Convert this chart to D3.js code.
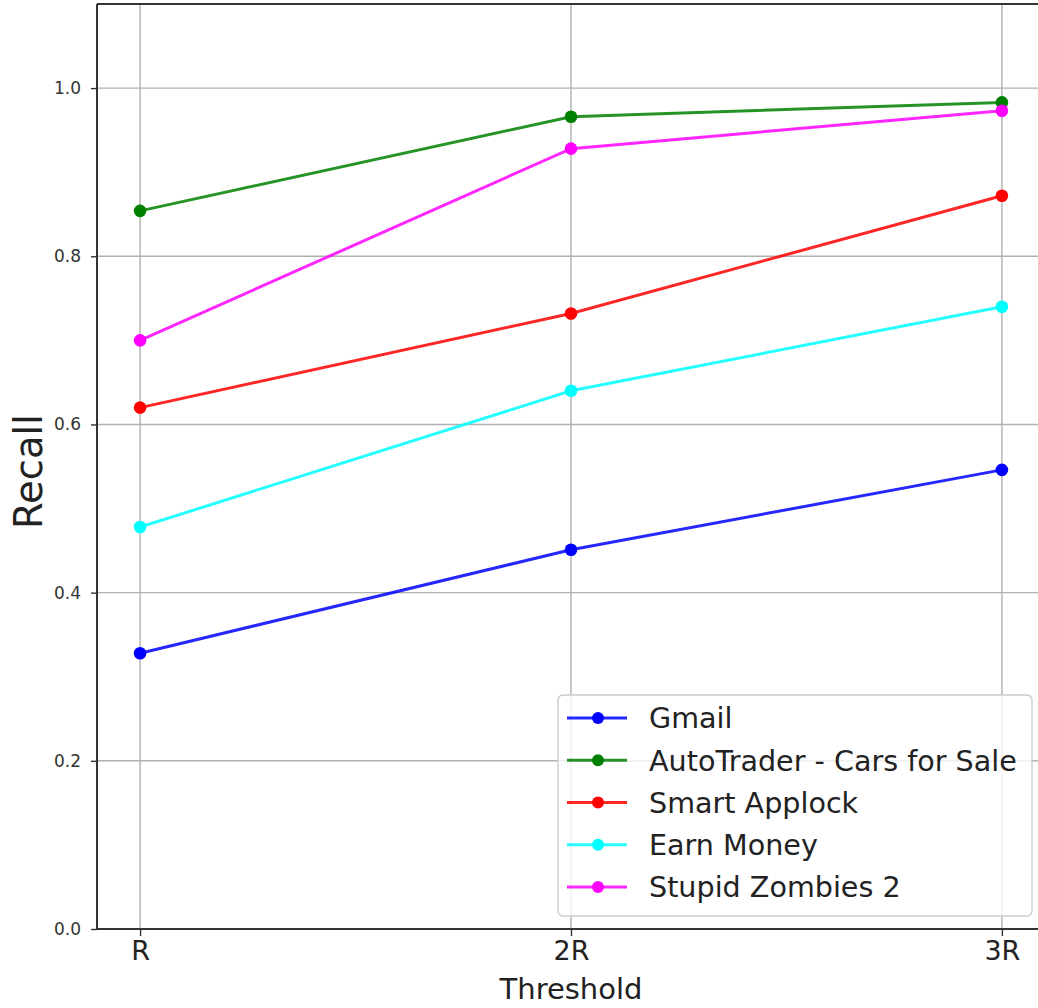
<!DOCTYPE html>
<html>
<head>
<meta charset="utf-8">
<script src="https://cdn.jsdelivr.net/npm/d3@7"></script>
<style>
  html, body { margin: 0; padding: 0; background: #fff; }
  svg { display: block; font-family: "DejaVu Sans", sans-serif; }
</style>
</head>
<body>
<svg id="chart" width="1038" height="1008"></svg>
<script>
const categories = ["R", "2R", "3R"];
const seriesNames = ["Gmail", "AutoTrader - Cars for Sale", "Smart Applock", "Earn Money", "Stupid Zombies 2"];
const seriesColors = ["#0000ff", "#008000", "#ff0000", "#00ffff", "#ff00ff"];
const gmail = [0.328, 0.451, 0.546];
const autoTrader = [0.854, 0.966, 0.983];
const smartApplock = [0.620, 0.732, 0.872];
const earnMoney = [0.478, 0.640, 0.740];
const stupidZombies = [0.700, 0.928, 0.973];
const yTicks = [0.0, 0.2, 0.4, 0.6, 0.8, 1.0];
const seriesValues = [gmail, autoTrader, smartApplock, earnMoney, stupidZombies];

(function () {
const svg = d3.select("#chart");
const pLeft = 97, pRight = 1045, pTop = 4, pBottom = 929;

const x = d3.scaleLinear().domain([-0.1, 2.1]).range([pLeft, pRight]);
const y = d3.scaleLinear().domain([0, 1.1]).range([pBottom, pTop]);

// grid
const grid = svg.append("g");
grid.selectAll("line.gx").data(categories).enter().append("line")
  .attr("x1", (d, i) => x(i)).attr("x2", (d, i) => x(i))
  .attr("y1", pTop).attr("y2", pBottom)
  .attr("stroke", "#b0b0b0").attr("stroke-width", 1.4);
grid.selectAll("line.gy").data(yTicks).enter().append("line")
  .attr("x1", pLeft).attr("x2", pRight)
  .attr("y1", d => y(d)).attr("y2", d => y(d))
  .attr("stroke", "#b0b0b0").attr("stroke-width", 1.4);

// axes
const yAxis = d3.axisLeft(y).tickValues(yTicks).tickFormat(d3.format(".1f")).tickSize(6).tickPadding(10);
const gy = svg.append("g").attr("transform", `translate(${pLeft},0)`).call(yAxis);
gy.select(".domain").remove();
gy.selectAll(".tick line").attr("stroke", "#333").attr("stroke-width", 1.4);
gy.selectAll(".tick text").attr("font-size", 17).attr("fill", "#333").attr("font-family", "DejaVu Sans");

const xAxis = d3.axisBottom(x).tickValues([0, 1, 2]).tickFormat(i => categories[i]).tickSize(7).tickPadding(5);
const gx = svg.append("g").attr("transform", `translate(0,${pBottom})`).call(xAxis);
gx.select(".domain").remove();
gx.selectAll(".tick line").attr("stroke", "#333").attr("stroke-width", 1.4);
gx.selectAll(".tick text").attr("font-size", 27).attr("fill", "#222").attr("font-family", "DejaVu Sans");

// spines
svg.append("line").attr("x1", pLeft).attr("x2", pLeft).attr("y1", pTop).attr("y2", pBottom)
  .attr("stroke", "#333").attr("stroke-width", 2);
svg.append("line").attr("x1", pLeft).attr("x2", pRight).attr("y1", pBottom).attr("y2", pBottom)
  .attr("stroke", "#333").attr("stroke-width", 2);
svg.append("line").attr("x1", pLeft).attr("x2", pRight).attr("y1", pTop).attr("y2", pTop)
  .attr("stroke", "#333").attr("stroke-width", 2);

// axis titles
svg.append("text").attr("x", x(1)).attr("y", 999).attr("text-anchor", "middle")
  .attr("font-size", 29).attr("fill", "#222").text("Threshold");
svg.append("text").attr("transform", `translate(42,${(pTop + pBottom) / 2 + 5}) rotate(-90)`)
  .attr("text-anchor", "middle").attr("font-size", 38.5).attr("fill", "#222").text("Recall");

// series
const line = d3.line().x((d, i) => x(i)).y(d => y(d));
seriesValues.forEach((vals, s) => {
  const g = svg.append("g");
  g.append("path").datum(vals).attr("d", line).attr("fill", "none")
    .attr("stroke", seriesColors[s]).attr("stroke-width", 3).attr("stroke-opacity", 0.85);
  g.selectAll("circle").data(vals).enter().append("circle")
    .attr("cx", (d, i) => x(i)).attr("cy", d => y(d)).attr("r", 6.3)
    .attr("fill", seriesColors[s]);
});

// legend
const lg = svg.append("g");
lg.append("rect").attr("x", 558).attr("y", 695).attr("width", 474).attr("height", 221)
  .attr("rx", 5).attr("fill", "#fff").attr("fill-opacity", 0.8)
  .attr("stroke", "#cccccc").attr("stroke-width", 1.4);
const rowY = d3.scaleLinear().domain([0, 4]).range([718, 887]);
seriesNames.forEach((name, s) => {
  const yy = rowY(s);
  lg.append("line").attr("x1", 567).attr("x2", 627).attr("y1", yy).attr("y2", yy)
    .attr("stroke", seriesColors[s]).attr("stroke-width", 3).attr("stroke-opacity", 0.85);
  lg.append("circle").attr("cx", 598).attr("cy", yy).attr("r", 6).attr("fill", seriesColors[s]);
  lg.append("text").attr("x", 649).attr("y", yy).attr("dy", "0.36em")
    .attr("font-size", 28.6).attr("fill", "#222").text(name);
});
})();
</script>
</body>
</html>
